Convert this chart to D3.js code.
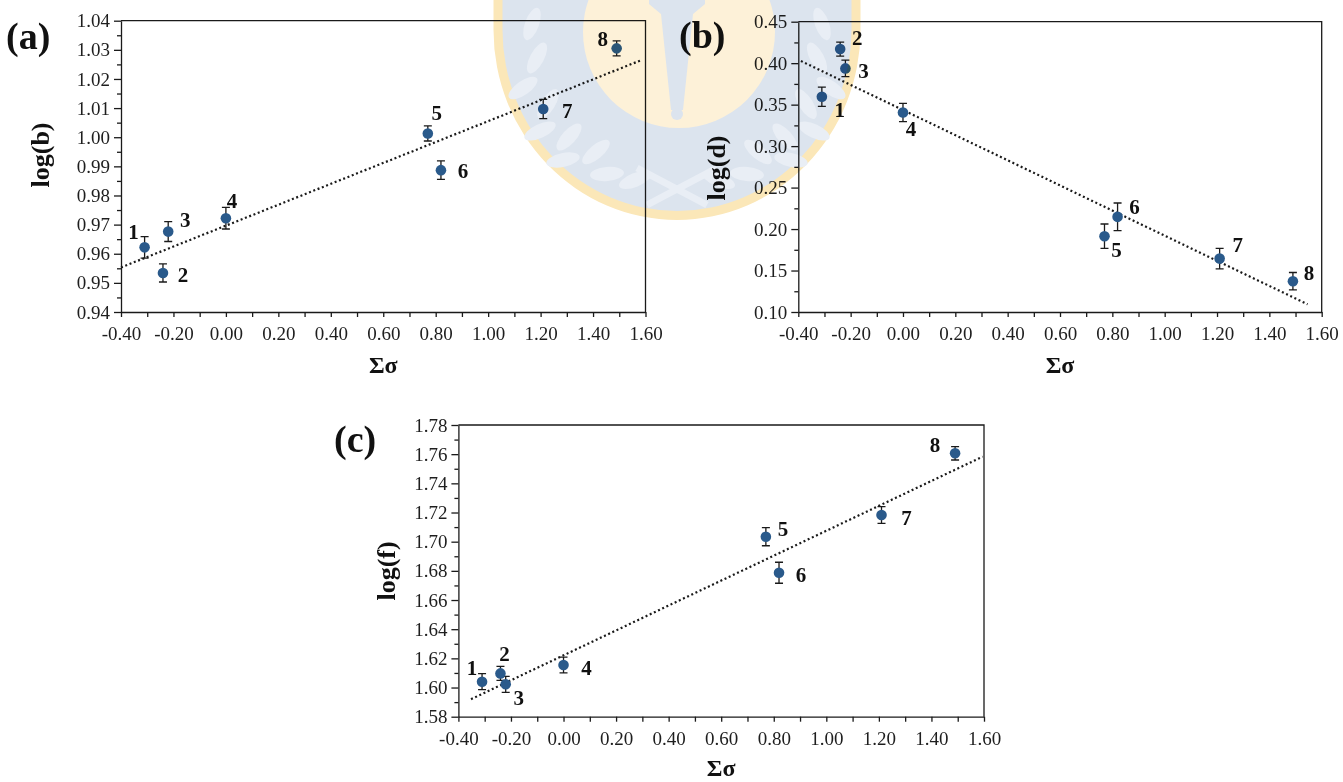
<!DOCTYPE html>
<html>
<head>
<meta charset="utf-8">
<script src="https://cdn.jsdelivr.net/npm/d3@7"></script>
<style>
  html, body { margin: 0; padding: 0; background: #ffffff; }
  svg { display: block; font-family: "Liberation Serif", "Times New Roman", serif; }
  .tick text { font-family: "Liberation Serif", "Times New Roman", serif; font-size: 19px; fill: #1e1e1e; }
  .axis path, .axis line { stroke: #1a1a1a; stroke-width: 1.3px; }
</style>
</head>
<body>
<svg id="fig" width="1343" height="782"></svg>
<script>
// Substituent constants (Σσ) of compounds 1–8
const compounds = ["1", "2", "3", "4", "5", "6", "7", "8"];
const sigma = [-0.31, -0.24, -0.22, 0.00, 0.77, 0.82, 1.21, 1.49];

// (a) log(b) with error estimates
const logB    = [0.9622, 0.9534, 0.9676, 0.9722, 1.0013, 0.9887, 1.0097, 1.0305];
const logBErr = [0.0037, 0.0031, 0.0034, 0.0037, 0.0026, 0.0032, 0.0033, 0.0026];
// (b) log(d)
const logD    = [0.3595, 0.4170, 0.3937, 0.3406, 0.1914, 0.2147, 0.1644, 0.1371];
const logDErr = [0.0117, 0.0084, 0.0100, 0.0110, 0.0147, 0.0167, 0.0123, 0.0105];
// (c) log(f)
const logF    = [1.6040, 1.6097, 1.6022, 1.6154, 1.7034, 1.6787, 1.7183, 1.7606];
const logFErr = [0.0055, 0.0048, 0.0055, 0.0054, 0.0062, 0.0072, 0.0058, 0.0046];

// Linear trend lines, given by their end points [Σσ, value]
const fitB = [[-0.40, 0.9553], [1.585, 1.0265]];
const fitD = [[-0.39, 0.4026], [1.546, 0.1093]];
const fitF = [[-0.352, 1.5920], [1.595, 1.7583]];

// Axis ticks
const xTicks = [-0.40, -0.20, 0.00, 0.20, 0.40, 0.60, 0.80, 1.00, 1.20, 1.40, 1.60];
const yTicksB = [0.94, 0.95, 0.96, 0.97, 0.98, 0.99, 1.00, 1.01, 1.02, 1.03, 1.04];
const yTicksD = [0.10, 0.15, 0.20, 0.25, 0.30, 0.35, 0.40, 0.45];
const yTicksF = [1.58, 1.60, 1.62, 1.64, 1.66, 1.68, 1.70, 1.72, 1.74, 1.76, 1.78];

// Panel layout (pixel boxes, title placement, label offsets from each point)
const panels = [
  {
    tag: "(a)", yTitle: "log(b)", values: logB, errors: logBErr, fit: fitB, yTicks: yTicksB,
    box: { left: 121, right: 645.5, top: 20.7, bottom: 312 },
    tagPos: [6, 49], yTitlePos: [40, 155], xTitleY: 373,
    offsets: [[-11, -8], [20, 9], [17, -5], [6, -10], [9, -13], [22, 8], [24, 9], [-14, -2]]
  },
  {
    tag: "(b)", yTitle: "log(d)", values: logD, errors: logDErr, fit: fitD, yTicks: yTicksD,
    box: { left: 798.3, right: 1321.7, top: 21.7, bottom: 312 },
    tagPos: [679, 48], yTitlePos: [716, 168], xTitleY: 373,
    offsets: [[18, 20], [17, -4], [18, 10], [8, 24], [12, 21], [17, -3], [18, -7], [16, -1]]
  },
  {
    tag: "(c)", yTitle: "log(f)", values: logF, errors: logFErr, fit: fitF, yTicks: yTicksF,
    box: { left: 458.4, right: 984, top: 425, bottom: 716.7 },
    tagPos: [334, 452], yTitlePos: [386, 571], xTitleY: 776,
    offsets: [[-10, -7], [4, -12], [13, 21], [23, 10], [17, -1], [22, 9], [25, 10], [-20, -1]]
  }
];

const svg = d3.select("#fig");
const fmt = d => d.toFixed(2);
const midpoints = arr => d3.pairs(arr).map(([a, b]) => (a + b) / 2);

panels.forEach(p => {
  const b = p.box;
  const x = d3.scaleLinear().domain([xTicks[0], xTicks[xTicks.length - 1]]).range([b.left, b.right]);
  const y = d3.scaleLinear().domain([p.yTicks[0], p.yTicks[p.yTicks.length - 1]]).range([b.bottom, b.top]);
  const g = svg.append("g");

  // frame: top and right edges
  g.append("path")
    .attr("d", `M${b.left},${b.top}H${b.right}V${b.bottom}`)
    .attr("fill", "none").attr("stroke", "#1a1a1a").attr("stroke-width", 1.3);

  // minor ticks
  g.append("g").attr("class", "axis").attr("transform", `translate(0,${b.bottom})`)
    .call(d3.axisBottom(x).tickValues(midpoints(xTicks)).tickSize(5).tickSizeOuter(0).tickFormat(""))
    .select(".domain").remove();
  g.append("g").attr("class", "axis").attr("transform", `translate(${b.left},0)`)
    .call(d3.axisLeft(y).tickValues(midpoints(p.yTicks)).tickSize(4).tickSizeOuter(0).tickFormat(""))
    .select(".domain").remove();

  // major axes
  g.append("g").attr("class", "axis").attr("transform", `translate(0,${b.bottom})`)
    .call(d3.axisBottom(x).tickValues(xTicks).tickSize(5).tickSizeOuter(0).tickPadding(10).tickFormat(fmt));
  g.append("g").attr("class", "axis").attr("transform", `translate(${b.left},0)`)
    .call(d3.axisLeft(y).tickValues(p.yTicks).tickSize(7).tickSizeOuter(0).tickPadding(4).tickFormat(fmt));

  // trend line
  g.append("path")
    .datum(p.fit)
    .attr("d", d3.line().x(d => x(d[0])).y(d => y(d[1])))
    .attr("fill", "none").attr("stroke", "#1a1a1a")
    .attr("stroke-width", 2.2).attr("stroke-dasharray", "2 2.6");

  const pts = sigma.map((s, i) => ({ s, v: p.values[i], e: p.errors[i], name: compounds[i], off: p.offsets[i] }));

  // error bars
  const eb = g.append("g").attr("stroke", "#1a1a1a").attr("stroke-width", 1.3).attr("fill", "none");
  eb.selectAll("path").data(pts).join("path")
    .attr("d", d => {
      const cx = x(d.s), y0 = y(d.v - d.e), y1 = y(d.v + d.e);
      return `M${cx},${y0}V${y1}M${cx - 4},${y0}H${cx + 4}M${cx - 4},${y1}H${cx + 4}`;
    });

  // markers
  g.append("g").selectAll("circle").data(pts).join("circle")
    .attr("cx", d => x(d.s)).attr("cy", d => y(d.v)).attr("r", 5.3)
    .attr("fill", "#2a5a8b");

  // compound numbers
  g.append("g").selectAll("text").data(pts).join("text")
    .attr("x", d => x(d.s) + d.off[0]).attr("y", d => y(d.v) + d.off[1])
    .attr("text-anchor", "middle").attr("font-weight", "bold").attr("font-size", 21)
    .attr("fill", "#111").text(d => d.name);

  // titles
  g.append("text").attr("x", (b.left + b.right) / 2).attr("y", p.xTitleY)
    .attr("text-anchor", "middle").attr("font-weight", "bold").attr("font-size", 24)
    .attr("fill", "#111").text("Σσ");
  g.append("text")
    .attr("transform", `translate(${p.yTitlePos[0]},${p.yTitlePos[1]}) rotate(-90)`)
    .attr("text-anchor", "middle").attr("dy", "0.35em")
    .attr("font-weight", "bold").attr("font-size", 26)
    .attr("fill", "#111").text(p.yTitle);
  g.append("text").attr("x", p.tagPos[0]).attr("y", p.tagPos[1])
    .attr("font-weight", "bold").attr("font-size", 38)
    .attr("fill", "#111").text(p.tag);
});

// University seal drawn faintly across the top of the figure
const seal = { cx: 677, top: 0, halfW: 183.5, bottom: 220, ring: 9 };
const wm = svg.append("g").style("mix-blend-mode", "multiply");
const shieldPath = (hw, bot) => {
  const l = seal.cx - hw, r = seal.cx + hw, side = 30;
  return `M${l},${seal.top}V${side}A${hw},${bot - side} 0 0 0 ${r},${side}V${seal.top}Z`;
};
wm.append("path").attr("d", shieldPath(seal.halfW, seal.bottom)).attr("fill", "#fbe7b8");
wm.append("path").attr("d", shieldPath(seal.halfW - seal.ring, seal.bottom - seal.ring)).attr("fill", "#dce4ee");

// laurel leaves on both sides
const leaves = [[532, 24, -70], [537, 58, -62], [523, 88, -35], [548, 104, -58], [540, 131, -25],
                [569, 137, -48], [563, 160, -12], [596, 152, -40], [607, 174, -5], [635, 180, -22]];
const leafG = wm.append("g").attr("fill", "#e9eef5");
leaves.forEach(([lx, ly, a]) => {
  leafG.append("ellipse").attr("cx", lx).attr("cy", ly).attr("rx", 17).attr("ry", 7)
    .attr("transform", `rotate(${a},${lx},${ly})`);
  const mx = 2 * seal.cx - lx;
  leafG.append("ellipse").attr("cx", mx).attr("cy", ly).attr("rx", 17).attr("ry", 7)
    .attr("transform", `rotate(${-a},${mx},${ly})`);
});
// crossed stems
wm.append("path").attr("d", `M${seal.cx - 40},168L${seal.cx + 30},205M${seal.cx + 40},168L${seal.cx - 30},205`)
  .attr("stroke", "#e9eef5").attr("stroke-width", 7).attr("fill", "none");

// medallion with torch
wm.append("circle").attr("cx", seal.cx + 2).attr("cy", 32).attr("r", 96).attr("fill", "#fdf1d8");
wm.append("path")
  .attr("d", `M${seal.cx - 28},0H${seal.cx + 28}V4L${seal.cx + 16},14L${seal.cx + 6},110H${seal.cx - 6}L${seal.cx - 16},14L${seal.cx - 28},4Z`)
  .attr("fill", "#dce4ee");
wm.append("circle").attr("cx", seal.cx).attr("cy", 114).attr("r", 6).attr("fill", "#dce4ee");
</script>
</body>
</html>
